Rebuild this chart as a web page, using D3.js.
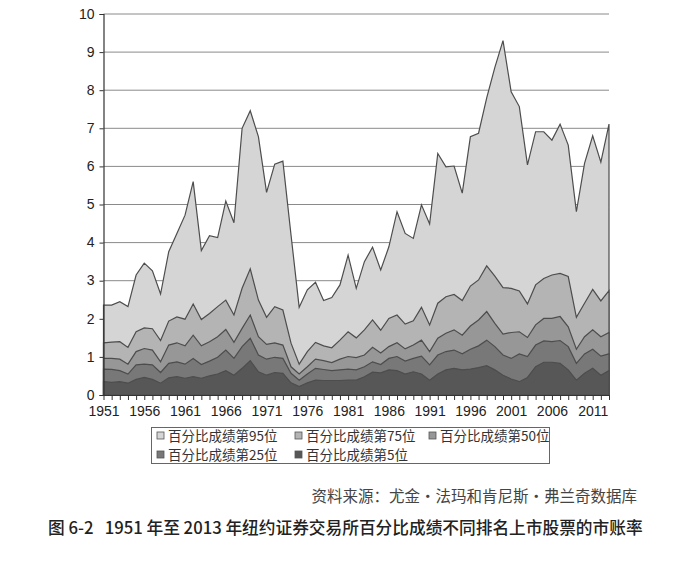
<!DOCTYPE html>
<html>
<head>
<meta charset="utf-8">
<script src="https://cdn.jsdelivr.net/npm/d3@7"></script>
<style>
  html, body { margin: 0; padding: 0; background: #fff; }
  svg { display: block; }
</style>
</head>
<body>
<svg id="chart" width="681" height="570"></svg>
<script>
// 市账率 by percentile, NYSE 1951-2013
const years = d3.range(1951, 2014);

const p95 = [2.36, 2.36, 2.45, 2.32, 3.15, 3.46, 3.26, 2.65, 3.76, 4.24,
  4.72, 5.6, 3.79, 4.18, 4.13, 5.09, 4.52, 7.0, 7.46, 6.78,
  5.32, 6.06, 6.14, 4.2, 2.3, 2.76, 2.96, 2.48, 2.56, 2.89,
  3.67, 2.8, 3.5, 3.88, 3.28, 3.89, 4.81, 4.24, 4.11, 4.99,
  4.49, 6.34, 5.99, 6.01, 5.3, 6.78, 6.87, 7.8, 8.6, 9.3,
  7.96, 7.57, 6.04, 6.91, 6.91, 6.69, 7.11, 6.56, 4.81, 6.08,
  6.8, 6.11, 7.11];

const p75 = [1.37, 1.39, 1.40, 1.25, 1.66, 1.76, 1.74, 1.43, 1.94, 2.05,
  1.99, 2.39, 1.98, 2.14, 2.32, 2.49, 2.10, 2.80, 3.31, 2.49,
  2.04, 2.32, 2.23, 1.36, 0.81, 1.14, 1.38, 1.29, 1.24, 1.44,
  1.66, 1.50, 1.71, 1.97, 1.70, 2.01, 2.10, 1.86, 1.95, 2.30,
  1.84, 2.41, 2.58, 2.64, 2.48, 2.86, 3.02, 3.39, 3.12, 2.82,
  2.80, 2.73, 2.39, 2.89, 3.06, 3.15, 3.19, 3.11, 2.04, 2.41,
  2.77, 2.47, 2.74];

const p50 = [0.96, 0.96, 0.94, 0.81, 1.14, 1.22, 1.18, 0.87, 1.31, 1.37,
  1.29, 1.57, 1.29, 1.40, 1.53, 1.72, 1.38, 1.75, 2.10, 1.53,
  1.33, 1.37, 1.31, 0.74, 0.55, 0.74, 0.94, 0.90, 0.85, 0.94,
  1.01, 0.98, 1.05, 1.25, 1.10, 1.27, 1.37, 1.21, 1.31, 1.44,
  1.14, 1.49, 1.62, 1.71, 1.57, 1.81, 1.97, 2.19, 1.88, 1.60,
  1.64, 1.66, 1.51, 1.84, 2.01, 2.01, 2.06, 1.79, 1.20, 1.53,
  1.71, 1.53, 1.64];

const p25 = [0.68, 0.67, 0.64, 0.55, 0.79, 0.81, 0.79, 0.59, 0.83, 0.87,
  0.81, 0.96, 0.80, 0.89, 0.99, 1.18, 0.96, 1.27, 1.49, 1.05,
  0.94, 0.99, 0.96, 0.57, 0.39, 0.55, 0.70, 0.67, 0.64, 0.66,
  0.68, 0.66, 0.74, 0.87, 0.80, 0.96, 1.01, 0.89, 0.96, 1.02,
  0.79, 1.05, 1.14, 1.18, 1.08, 1.20, 1.29, 1.44, 1.27, 1.05,
  0.96, 1.08, 1.01, 1.31, 1.42, 1.40, 1.43, 1.27, 0.83, 1.08,
  1.20, 1.02, 1.08];

const p5 = [0.35, 0.33, 0.35, 0.31, 0.41, 0.46, 0.41, 0.31, 0.45, 0.48,
  0.44, 0.48, 0.44, 0.50, 0.55, 0.64, 0.52, 0.70, 0.90, 0.61,
  0.52, 0.59, 0.57, 0.32, 0.22, 0.32, 0.39, 0.38, 0.38, 0.38,
  0.39, 0.39, 0.48, 0.60, 0.58, 0.66, 0.64, 0.55, 0.61, 0.55,
  0.39, 0.55, 0.66, 0.70, 0.66, 0.68, 0.72, 0.77, 0.66, 0.52,
  0.42, 0.35, 0.46, 0.74, 0.86, 0.86, 0.83, 0.66, 0.39, 0.57,
  0.70, 0.52, 0.64];

const seriesNames = ["百分比成绩第95位", "百分比成绩第75位", "百分比成绩第50位",
  "百分比成绩第25位", "百分比成绩第5位"];
const seriesValues = [p95, p75, p50, p25, p5];
const seriesColors = ["#d5d5d5", "#b4b4b4", "#979797", "#787878", "#575757"];

const yTicks = d3.range(0, 11);
const xLabelYears = d3.range(1951, 2014, 5);

const sourceText = "资料来源：尤金·法玛和肯尼斯·弗兰奇数据库";
const captionText = "图 6-2   1951 年至 2013 年纽约证券交易所百分比成绩不同排名上市股票的市账率";

const svg = d3.select("#chart");
const plot = { left: 103.5, right: 609, top: 14, bottom: 395 };

const x = d3.scaleLinear().domain([1951, 2013]).range([plot.left, plot.right]);
const y = d3.scaleLinear().domain([0, 10]).range([plot.bottom, plot.top]);

svg.append("rect").attr("width", 681).attr("height", 570).attr("fill", "#fff");

// gridlines
svg.append("g")
  .selectAll("line")
  .data(yTicks.filter(d => d > 0))
  .join("line")
  .attr("x1", plot.left).attr("x2", plot.right)
  .attr("y1", d => y(d)).attr("y2", d => y(d))
  .attr("stroke", "#8a8a8a")
  .attr("stroke-width", 1);

// areas, biggest first so the smaller ones sit on top
const area = d3.area()
  .x((d, i) => x(years[i]))
  .y0(y(0))
  .y1(d => y(d));

svg.append("g")
  .selectAll("path")
  .data(seriesValues)
  .join("path")
  .attr("d", d => area(d))
  .attr("fill", (d, i) => seriesColors[i])
  .attr("stroke", "#4d4d4d")
  .attr("stroke-width", 1.2)
  .attr("stroke-linejoin", "miter");

// y axis
const yAxis = d3.axisLeft(y).tickValues(yTicks).tickSize(4).tickFormat(d3.format("d"));
svg.append("g")
  .attr("transform", `translate(${plot.left},0)`)
  .call(yAxis)
  .call(g => g.select(".domain").attr("stroke", "#333").attr("stroke-width", 1.2))
  .call(g => g.selectAll(".tick line").attr("stroke", "#333"))
  .call(g => g.selectAll("text")
    .attr("font-family", "Liberation Sans, Arial, sans-serif")
    .attr("font-size", 14)
    .attr("fill", "#222")
    .attr("x", -9)
    .attr("dy", "0.3em"));

// x axis, a tick every year, labels every 5
const xAxis = d3.axisBottom(x).tickValues(years).tickSize(5).tickSizeOuter(0)
  .tickFormat(d => (xLabelYears.includes(d) ? d : ""));
svg.append("g")
  .attr("transform", `translate(0,${plot.bottom})`)
  .call(xAxis)
  .call(g => g.select(".domain").attr("stroke", "#333").attr("stroke-width", 1.2))
  .call(g => g.selectAll(".tick line").attr("stroke", "#333"))
  .call(g => g.selectAll("text")
    .attr("font-family", "Liberation Sans, Arial, sans-serif")
    .attr("font-size", 14)
    .attr("fill", "#222")
    .attr("y", 11));

// legend
const legend = svg.append("g");
legend.append("rect")
  .attr("x", 151.5).attr("y", 427.5)
  .attr("width", 398).attr("height", 36)
  .attr("fill", "none").attr("stroke", "#666");

const legendPos = [[157, 436], [295, 436], [429, 436], [157, 455], [295, 455]];
const items = legend.selectAll("g")
  .data(seriesNames)
  .join("g")
  .attr("transform", (d, i) => `translate(${legendPos[i][0]},${legendPos[i][1]})`);
items.append("rect")
  .attr("x", 0).attr("y", -4)
  .attr("width", 7).attr("height", 7)
  .attr("fill", (d, i) => seriesColors[i])
  .attr("stroke", "#555").attr("stroke-width", 0.8);
items.append("text")
  .attr("x", 11).attr("y", 0).attr("dy", "0.36em")
  .attr("font-family", "Noto Sans CJK SC, sans-serif")
  .attr("font-size", 13.5)
  .attr("fill", "#333")
  .text(d => d);

// source and caption
svg.append("text")
  .attr("x", 637).attr("y", 502)
  .attr("text-anchor", "end")
  .attr("font-family", "Noto Sans CJK SC, sans-serif")
  .attr("font-size", 15.5)
  .attr("fill", "#444")
  .text(sourceText);

svg.append("text")
  .attr("x", 48).attr("y", 534)
  .attr("font-family", "Noto Sans CJK SC, sans-serif")
  .attr("font-size", 16.7)
  .attr("font-weight", 500)
  .attr("fill", "#222")
  .attr("xml:space", "preserve")
  .style("white-space", "pre")
  .text(captionText);
</script>
</body>
</html>
